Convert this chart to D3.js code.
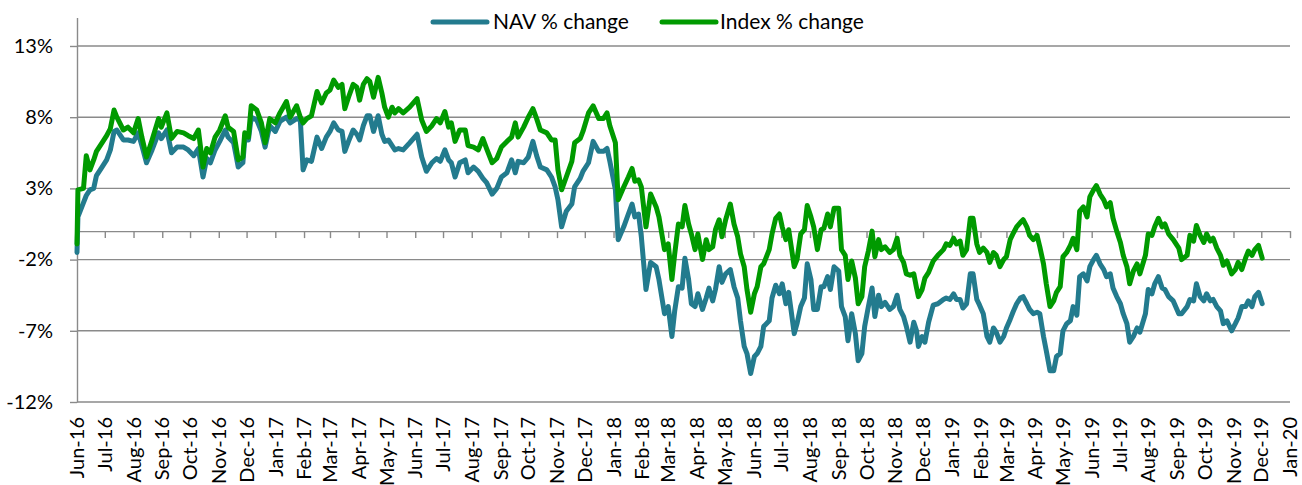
<!DOCTYPE html>
<html>
<head>
<meta charset="utf-8">
<script src="https://cdn.jsdelivr.net/npm/d3@7"></script>
<style>
  html, body { margin: 0; padding: 0; background: #fff; }
  svg { display: block; font-family: Lato, 'Open Sans', sans-serif; }
</style>
</head>
<body>
<svg id="chart" width="1302" height="485"></svg>
<script>
const dates = [
  '2016-06-01', '2016-06-02', '2016-06-08', '2016-06-11', '2016-06-15', '2016-06-19', '2016-06-22', '2016-06-28', '2016-07-03', '2016-07-07',
  '2016-07-11', '2016-07-14', '2016-07-21', '2016-07-26', '2016-08-01', '2016-08-06', '2016-08-10', '2016-08-15', '2016-08-21', '2016-08-28',
  '2016-08-31', '2016-09-06', '2016-09-11', '2016-09-17', '2016-09-24', '2016-09-29', '2016-10-05', '2016-10-10', '2016-10-15', '2016-10-19',
  '2016-10-23', '2016-10-28', '2016-11-02', '2016-11-08', '2016-11-11', '2016-11-17', '2016-11-22', '2016-11-27', '2016-11-29', '2016-12-03',
  '2016-12-06', '2016-12-12', '2016-12-17', '2016-12-21', '2016-12-26', '2017-01-01', '2017-01-06', '2017-01-13', '2017-01-17', '2017-01-24',
  '2017-01-28', '2017-01-31', '2017-02-04', '2017-02-09', '2017-02-15', '2017-02-20', '2017-02-25', '2017-03-01', '2017-03-05', '2017-03-10',
  '2017-03-14', '2017-03-17', '2017-03-21', '2017-03-26', '2017-03-30', '2017-04-02', '2017-04-06', '2017-04-10', '2017-04-13', '2017-04-17',
  '2017-04-22', '2017-04-26', '2017-04-29', '2017-05-03', '2017-05-07', '2017-05-10', '2017-05-14', '2017-05-19', '2017-05-26', '2017-06-03',
  '2017-06-08', '2017-06-13', '2017-06-19', '2017-06-24', '2017-06-28', '2017-07-03', '2017-07-07', '2017-07-10', '2017-07-14', '2017-07-19',
  '2017-07-25', '2017-07-28', '2017-08-03', '2017-08-08', '2017-08-13', '2017-08-17', '2017-08-23', '2017-08-28', '2017-09-02', '2017-09-08',
  '2017-09-13', '2017-09-17', '2017-09-20', '2017-09-26', '2017-10-01', '2017-10-06', '2017-10-10', '2017-10-14', '2017-10-21', '2017-10-26',
  '2017-10-30', '2017-11-02', '2017-11-06', '2017-11-11', '2017-11-17', '2017-11-20', '2017-11-26', '2017-11-29', '2017-12-05', '2017-12-10',
  '2017-12-16', '2017-12-21', '2017-12-25', '2017-12-28', '2018-01-03', '2018-01-06', '2018-01-12', '2018-01-17', '2018-01-21', '2018-01-24',
  '2018-01-28', '2018-01-31', '2018-02-05', '2018-02-10', '2018-02-16', '2018-02-19', '2018-02-25', '2018-03-01', '2018-03-05', '2018-03-08',
  '2018-03-12', '2018-03-16', '2018-03-19', '2018-03-23', '2018-03-26', '2018-03-30', '2018-04-02', '2018-04-07', '2018-04-11', '2018-04-14',
  '2018-04-18', '2018-04-21', '2018-04-25', '2018-04-28', '2018-05-02', '2018-05-07', '2018-05-11', '2018-05-15', '2018-05-18', '2018-05-22',
  '2018-05-25', '2018-05-29', '2018-06-02', '2018-06-05', '2018-06-09', '2018-06-12', '2018-06-18', '2018-06-21', '2018-06-25', '2018-06-29',
  '2018-07-02', '2018-07-06', '2018-07-09', '2018-07-15', '2018-07-18', '2018-07-22', '2018-07-26', '2018-07-29', '2018-08-02', '2018-08-05',
  '2018-08-09', '2018-08-13', '2018-08-16', '2018-08-20', '2018-08-23', '2018-08-27', '2018-09-01', '2018-09-04', '2018-09-08', '2018-09-11',
  '2018-09-15', '2018-09-19', '2018-09-22', '2018-09-26', '2018-09-29', '2018-10-03', '2018-10-07', '2018-10-10', '2018-10-14', '2018-10-17',
  '2018-10-21', '2018-10-26', '2018-10-30', '2018-11-03', '2018-11-06', '2018-11-10', '2018-11-13', '2018-11-17', '2018-11-21', '2018-11-24',
  '2018-11-26', '2018-11-30', '2018-12-03', '2018-12-07', '2018-12-12', '2018-12-17', '2018-12-23', '2018-12-26', '2018-12-30', '2019-01-03',
  '2019-01-06', '2019-01-10', '2019-01-13', '2019-01-17', '2019-01-21', '2019-01-24', '2019-01-28', '2019-01-31', '2019-02-04', '2019-02-08',
  '2019-02-11', '2019-02-15', '2019-02-18', '2019-02-22', '2019-02-26', '2019-03-01', '2019-03-05', '2019-03-08', '2019-03-12', '2019-03-16',
  '2019-03-19', '2019-03-23', '2019-03-26', '2019-03-30', '2019-04-03', '2019-04-06', '2019-04-10', '2019-04-13', '2019-04-17', '2019-04-21',
  '2019-04-24', '2019-04-28', '2019-05-01', '2019-05-05', '2019-05-09', '2019-05-12', '2019-05-16', '2019-05-19', '2019-05-23', '2019-05-27',
  '2019-05-30', '2019-06-03', '2019-06-06', '2019-06-10', '2019-06-14', '2019-06-17', '2019-06-21', '2019-06-24', '2019-06-28', '2019-07-02',
  '2019-07-05', '2019-07-09', '2019-07-12', '2019-07-16', '2019-07-20', '2019-07-23', '2019-07-29', '2019-08-01', '2019-08-05', '2019-08-08',
  '2019-08-12', '2019-08-16', '2019-08-19', '2019-08-23', '2019-08-28', '2019-09-03', '2019-09-06', '2019-09-12', '2019-09-15', '2019-09-19',
  '2019-09-22', '2019-09-26', '2019-09-30', '2019-10-03', '2019-10-07', '2019-10-10', '2019-10-14', '2019-10-18', '2019-10-21', '2019-10-25',
  '2019-10-30', '2019-11-03', '2019-11-06', '2019-11-10', '2019-11-14', '2019-11-17', '2019-11-21', '2019-11-24', '2019-11-28', '2019-12-02'
]

// NAV % change
const navChange = [
  -1.5, 1.0, 2.0, 2.5, 2.9, 3.0, 3.9, 4.5, 5.0, 5.7,
  7.0, 7.1, 6.4, 6.4, 6.3, 6.9, 6.0, 4.8, 5.7, 6.9,
  6.5, 7.1, 5.5, 5.9, 5.9, 5.7, 5.3, 5.8, 3.8, 5.1,
  4.8, 5.7, 6.3, 7.1, 6.6, 6.2, 4.5, 4.8, 6.4, 6.4,
  8.0, 7.8, 7.0, 5.9, 7.4, 7.0, 7.7, 8.0, 7.6, 7.9,
  7.8, 4.3, 5.0, 4.9, 6.6, 5.8, 6.6, 7.0, 7.6, 7.1,
  7.0, 5.6, 6.3, 7.1, 6.8, 6.4, 7.4, 8.1, 8.1, 7.0,
  8.1, 6.8, 6.3, 6.4, 6.0, 5.7, 5.8, 5.7, 6.2, 6.8,
  5.2, 4.2, 4.8, 5.1, 4.9, 5.7, 5.0, 4.8, 3.8, 4.8,
  5.0, 4.1, 4.5, 4.2, 3.7, 3.4, 2.6, 3.0, 3.8, 4.1,
  5.0, 4.1, 4.9, 4.8, 5.2, 6.3, 5.3, 4.5, 4.3, 3.8,
  3.1, 2.2, 0.3, 1.4, 1.9, 3.1, 3.7, 4.2, 4.8, 6.3,
  5.6, 5.6, 5.8, 4.9, 2.9, -0.6, 0.3, 1.2, 1.9, 1.0,
  1.2, -0.4, -4.1, -2.2, -2.5, -3.4, -5.8, -5.3, -7.4, -5.6,
  -3.9, -4.0, -1.9, -3.4, -5.1, -5.3, -4.4, -5.5, -4.7, -4.0,
  -4.9, -4.1, -2.5, -3.6, -3.0, -2.7, -3.9, -4.7, -6.3, -8.1,
  -8.6, -10.0, -8.8, -8.6, -8.1, -6.7, -6.3, -4.7, -3.8, -4.4,
  -3.7, -5.1, -4.3, -7.2, -6.5, -5.3, -4.7, -2.3, -3.4, -5.5,
  -5.5, -3.9, -3.9, -3.2, -4.1, -2.5, -2.8, -5.3, -6.0, -7.7,
  -5.8, -7.2, -9.1, -8.6, -6.7, -5.3, -4.0, -6.0, -4.5, -5.3,
  -5.0, -5.5, -5.3, -4.5, -5.5, -6.0, -6.7, -7.8, -6.4, -7.0,
  -8.1, -7.4, -7.8, -6.4, -5.2, -5.1, -4.8, -4.7, -4.8, -4.4,
  -4.8, -4.8, -5.4, -5.1, -3.0, -3.0, -4.8, -5.2, -5.8, -7.4,
  -7.8, -6.8, -7.1, -7.8, -7.4, -6.8, -6.2, -5.7, -5.1, -4.7,
  -4.6, -5.1, -5.5, -5.8, -5.7, -5.8, -7.4, -8.4, -9.8, -9.8,
  -8.8, -8.6, -7.0, -6.5, -6.3, -5.3, -5.9, -3.2, -3.0, -3.5,
  -2.5, -2.0, -1.7, -2.3, -2.7, -3.2, -3.0, -4.0, -4.6, -5.1,
  -5.8, -6.5, -7.8, -7.4, -6.8, -7.1, -5.8, -4.1, -4.4, -3.7,
  -3.2, -4.0, -4.1, -4.6, -4.9, -5.8, -5.8, -5.3, -4.8, -4.9,
  -3.7, -4.6, -4.9, -4.4, -4.9, -4.8, -5.3, -5.6, -6.5, -6.3,
  -7.0, -6.5, -6.1, -5.3, -5.3, -4.9, -5.3, -4.6, -4.3, -5.1
]

// Index % change
const indexChange = [
  -0.9, 2.9, 3.0, 5.3, 4.3, 5.0, 5.6, 6.2, 6.7, 7.2,
  8.5, 8.0, 7.1, 7.3, 6.9, 7.9, 6.6, 5.2, 6.4, 7.9,
  7.3, 8.3, 6.5, 7.0, 6.9, 6.7, 6.5, 7.1, 4.5, 5.8,
  5.5, 6.6, 7.1, 8.1, 7.3, 7.0, 5.0, 5.2, 6.9, 6.6,
  8.8, 8.5, 7.6, 6.2, 7.9, 7.6, 8.3, 9.1, 8.0, 8.8,
  8.0, 7.6, 7.9, 8.1, 9.8, 9.0, 9.7, 9.9, 10.6, 10.1,
  10.3, 8.6, 9.4, 10.3, 10.1, 9.2, 10.3, 10.7, 10.5, 9.4,
  10.8, 9.7, 8.7, 8.0, 8.7, 8.3, 8.6, 8.3, 8.7, 9.3,
  7.8, 7.0, 7.4, 7.9, 7.6, 8.4, 7.3, 7.6, 6.3, 7.1,
  7.1, 6.0, 5.9, 5.7, 6.5, 5.8, 4.8, 5.1, 5.9, 6.3,
  6.6, 7.6, 6.6, 7.3, 8.0, 8.6, 7.9, 7.1, 6.9, 6.4,
  6.4, 4.3, 2.9, 3.8, 4.9, 6.2, 6.5, 7.0, 8.3, 8.8,
  7.9, 7.9, 8.3, 7.4, 6.2, 2.2, 3.1, 3.8, 4.4, 3.5,
  3.6, 3.1, 0.3, 2.6, 1.7, 1.0, -1.3, -0.9, -3.4, -1.6,
  0.5, 0.3, 1.8, 0.5, -0.2, -1.3, -0.2, -2.0, -0.6, -1.3,
  -1.1, 0.1, 0.8, -0.4, 0.8, 1.9, 0.5, -0.4, -1.6, -2.5,
  -4.1, -5.7, -4.4, -3.9, -2.5, -2.3, -1.3, -0.2, 0.9, 1.2,
  0.3, -0.6, 0.1, -2.5, -2.0, -0.2, 0.1, 1.8, 1.0, 0.3,
  -1.3, 0.1, 0.2, 1.2, 0.3, 1.6, 1.6, -1.3, -1.7, -3.4,
  -2.1, -3.3, -5.1, -4.6, -2.5, -1.4, 0.0, -1.8, -0.6, -1.3,
  -1.1, -1.5, -1.3, -0.5, -1.7, -2.2, -3.0, -3.1, -3.0, -4.0,
  -4.6, -4.1, -3.3, -2.9, -2.1, -1.7, -1.3, -0.9, -1.0, -0.5,
  -0.9, -0.7, -1.7, -1.3, 0.9, 0.9, -0.9, -1.5, -1.2, -1.5,
  -2.2, -1.5, -1.7, -2.5, -2.0, -1.8, -0.6, -0.2, 0.3, 0.6,
  0.8, 0.3, -0.3, -0.6, -0.3, -1.1, -2.3, -3.7, -5.3, -4.9,
  -4.3, -3.9, -1.8, -1.5, -1.0, -0.5, -1.3, 1.4, 1.7, 1.0,
  2.4, 2.9, 3.2, 2.6, 2.2, 1.7, 2.0, 0.9, 0.0, -0.8,
  -1.7, -2.5, -3.7, -2.8, -2.3, -3.0, -1.7, -0.2, -0.3, 0.3,
  0.9, 0.3, 0.5, -0.2, -0.6, -1.2, -2.0, -1.7, -0.3, -0.7,
  0.4, -0.3, -0.8, -0.2, -0.7, -0.5, -1.2, -1.7, -2.4, -2.1,
  -3.0, -2.7, -2.2, -2.7, -1.9, -1.4, -1.7, -1.3, -1.0, -1.9
]

const yTicks = [-12, -7, -2, 3, 8, 13]
const yDomain = [-12, 15]
const xDomain = ['2016-06-01', '2020-01-01']
const seriesNames = ['NAV % change', 'Index % change']
const seriesColors = ['#237b8e', '#009a00']

const svg = d3.select('#chart')
const parse = d3.timeParse('%Y-%m-%d')
const gridColor = '#8a8a8a'
const textColor = '#000'
const fontSize = '20px'

const xScale = d3.scaleTime()
  .domain(xDomain.map(parse))
  .range([77, 1290])

const yScale = d3.scaleLinear()
  .domain(yDomain)
  .range([402, 17.5])

const months = d3.timeMonth.range(parse(xDomain[0]), d3.timeDay.offset(parse(xDomain[1]), 1))

// horizontal gridlines
svg.append('g')
  .selectAll('line')
  .data(yTicks)
  .join('line')
  .attr('x1', xScale.range()[0])
  .attr('x2', xScale.range()[1])
  .attr('y1', d => yScale(d))
  .attr('y2', d => yScale(d))
  .style('stroke', gridColor)
  .style('stroke-width', 1.4)

// y axis
const yAxis = d3.axisLeft(yScale)
  .tickValues(yTicks)
  .tickSize(7)
  .tickSizeOuter(0)
  .tickPadding(17)
  .tickFormat(d => `${d}%`)

svg.append('g')
  .attr('transform', `translate(${xScale.range()[0]},0)`)
  .call(g => {
    g.call(yAxis)
    g.select('.domain').style('stroke', gridColor).style('stroke-width', 1.4)
    g.selectAll('.tick line').style('stroke', gridColor).style('stroke-width', 1.4)
    g.selectAll('.tick text')
      .style('font-size', fontSize)
      .style('font-family', 'Lato, sans-serif')
      .style('fill', textColor)
  })

// zero line with month ticks
const zeroAxis = d3.axisBottom(xScale)
  .tickValues(months)
  .tickSize(7)
  .tickSizeOuter(0)
  .tickFormat('')

svg.append('g')
  .attr('transform', `translate(0,${yScale(0)})`)
  .call(g => {
    g.call(zeroAxis)
    g.select('.domain').style('stroke', gridColor).style('stroke-width', 1.4)
    g.selectAll('.tick line').style('stroke', gridColor).style('stroke-width', 1.4)
  })

// month labels below the plot
const monthFmt = d3.timeFormat('%b-%y')
svg.append('g')
  .selectAll('text')
  .data(months)
  .join('text')
  .attr('transform', d => `translate(${xScale(d)},417) rotate(-90)`)
  .attr('dy', '0.36em')
  .attr('text-anchor', 'end')
  .style('font-size', fontSize)
  .style('fill', textColor)
  .text(d => monthFmt(d))

// series lines
const rows = dates.map((d, i) => ({ date: parse(d), nav: navChange[i], idx: indexChange[i] }))
const series = [
  { key: 'nav', name: seriesNames[0], color: seriesColors[0] },
  { key: 'idx', name: seriesNames[1], color: seriesColors[1] }
]

series.forEach(s => {
  const line = d3.line()
    .x(d => xScale(d.date))
    .y(d => yScale(d[s.key]))
  svg.append('path')
    .datum(rows)
    .attr('d', line)
    .style('fill', 'none')
    .style('stroke', s.color)
    .style('stroke-width', 5)
    .style('stroke-linejoin', 'round')
    .style('stroke-linecap', 'round')
})

// legend
const legendX = [433, 662]
const legend = svg.append('g')
  .selectAll('g')
  .data(series)
  .join('g')
  .attr('transform', (d, i) => `translate(${legendX[i]},22)`)

legend.append('line')
  .attr('x1', 0)
  .attr('x2', 54)
  .style('stroke', d => d.color)
  .style('stroke-width', 5)
  .style('stroke-linecap', 'round')

legend.append('text')
  .attr('x', (d, i) => i === 0 ? 60 : 58)
  .attr('y', 7)
  .style('font-size', '21px')
  .style('fill', textColor)
  .text(d => d.name)
</script>
</body>
</html>
